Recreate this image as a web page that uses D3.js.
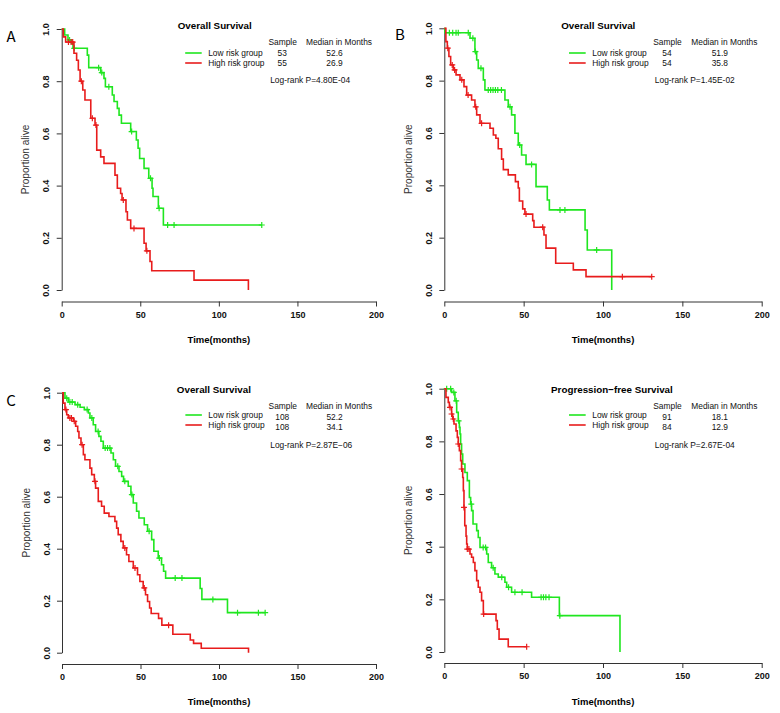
<!DOCTYPE html>
<html lang="en">
<head>
<meta charset="utf-8">
<title>Kaplan-Meier survival curves</title>
<script src="https://cdn.jsdelivr.net/npm/d3@7"></script>
<style>
  body { margin: 0; background: #fff; }
  svg { display: block; font-family: "Liberation Sans", Arial, sans-serif; }
  .axis path, .axis line { fill: none; stroke: #333; stroke-width: 1; }
  .axis text { font-size: 9px; font-weight: bold; fill: #111; }
  .curve { fill: none; stroke-width: 1.6; }
  .censor { fill: none; stroke-width: 1.2; }
</style>
</head>
<body>
<script>
// ---------- data ----------
const groupNames = ["Low risk group", "High risk group"];
const panelLetters = ["A", "B", "C", ""];
const panelTitles = ["Overall Survival", "Overall Survival", "Overall Survival", "Progression\u2212free Survival"];
const sampleSizes = [[53, 55], [54, 54], [108, 108], [91, 84]];
const medianMonths = [["52.6", "26.9"], ["51.9", "35.8"], ["52.2", "34.1"], ["18.1", "12.9"]];
const logRankP = ["4.80E-04", "1.45E-02", "2.87E\u221206", "2.67E-04"];
const xTicks = [0, 50, 100, 150, 200];
const yTicks = [0, 0.2, 0.4, 0.6, 0.8, 1.0];

// each step = [months, survival after the drop]
// A
const aLowSteps = [[0,1],[1.9,0.977],[4,0.958],[6.2,0.945],[7.2,0.926],[16.3,0.90],[17.2,0.852],[24.8,0.833],[26.9,0.811],[27.8,0.779],[32.2,0.747],[33.3,0.722],[35.4,0.696],[36.5,0.67],[38,0.639],[43.9,0.607],[47.5,0.575],[48.6,0.543],[49.6,0.504],[52.4,0.466],[55.4,0.428],[57.5,0.39],[58.1,0.358],[61.5,0.313],[64.7,0.249]];
const aLowEnd = 127.3;
const aLowCensor = [5, 8, 23.5, 25.5, 30, 44.5, 56.5, 62, 67.4, 71.5, 127.3];
const aHighSteps = [[0,1],[1,0.97],[2.5,0.95],[7.8,0.907],[9.5,0.88],[10.6,0.843],[11.7,0.80],[13.4,0.766],[14.8,0.728],[18.5,0.658],[21.2,0.632],[22.3,0.536],[24.8,0.51],[26.9,0.485],[33.9,0.44],[35.4,0.39],[37.5,0.37],[38.4,0.345],[40.9,0.30],[41.8,0.268],[43.9,0.236],[52.4,0.179],[53.7,0.15],[56.2,0.109],[57.3,0.074],[84.2,0.038],[118.8,0]];
const aHighEnd = 118.8;
const aHighCensor = [4.3, 6, 7, 12.5, 19.5, 21.8, 39.2, 46, 54.2];
// B
const bLowSteps = [[0,1],[0.4,0.983],[16.2,0.962],[19.3,0.911],[20.4,0.879],[21.4,0.847],[24.6,0.803],[25.6,0.764],[38.2,0.726],[40.3,0.70],[42.4,0.669],[44.5,0.599],[46.6,0.554],[48.7,0.516],[51.5,0.48],[57.8,0.395],[64.9,0.344],[66.2,0.306],[88.7,0.229],[90.1,0.153],[105.5,0]];
const bLowEnd = 105.5;
const bLowCensor = [3.2, 5.3, 7.4, 8.8, 15.1, 18, 19.6, 23.1, 27.7, 29.2, 30.7, 32.2, 33.7, 36, 41.4, 47.5, 55, 72.9, 76, 96];
const bHighSteps = [[0,1],[1,0.949],[1.9,0.924],[2.9,0.892],[4,0.86],[5.7,0.841],[7.4,0.822],[9.9,0.803],[12.4,0.777],[14.1,0.745],[17.2,0.726],[19.3,0.70],[20.4,0.669],[22.5,0.637],[28.8,0.618],[30.9,0.592],[32.5,0.58],[34,0.54],[36.1,0.50],[37.2,0.46],[40.3,0.44],[44.8,0.414],[46.6,0.39],[47.3,0.34],[49.4,0.31],[50.8,0.29],[55.7,0.265],[56.5,0.24],[62.8,0.21],[64.1,0.16],[70.2,0.102],[81.3,0.077],[89.3,0.051]];
const bHighEnd = 130.7;
const bHighCensor = [2.2, 5, 6.5, 11, 15, 19.8, 23.5, 51.5, 62, 112.2, 130.7];
// C
const cLowSteps = [[0,1],[1.9,0.979],[4,0.964],[8.3,0.954],[11.5,0.944],[14.2,0.935],[16.8,0.922],[17.8,0.903],[19.9,0.877],[21.4,0.851],[23.5,0.832],[24.8,0.813],[26.3,0.787],[31.2,0.768],[32.7,0.742],[34.1,0.717],[36.3,0.697],[38,0.678],[39.2,0.659],[42.2,0.64],[43.9,0.608],[45.4,0.576],[47.5,0.544],[49,0.518],[52.4,0.492],[54.5,0.467],[57.1,0.435],[58.5,0.39],[61.3,0.364],[63.4,0.338],[64.7,0.313],[66,0.287],[88,0.247],[89.1,0.205],[105.4,0.154]];
const cLowEnd = 129.4;
const cLowCensor = [3, 5, 6.5, 10, 16, 19, 23, 27.5, 29, 30.5, 35.5, 40, 44.5, 55.5, 62, 72.1, 76.4, 96.1, 111.8, 125.1, 129.4];
const cHighSteps = [[0,1],[0.8,0.96],[1.9,0.935],[3,0.915],[4,0.903],[7.2,0.89],[8.7,0.871],[10,0.851],[10.8,0.826],[12.1,0.80],[13.6,0.762],[14.6,0.742],[17.8,0.71],[18.9,0.685],[20.6,0.659],[21.4,0.633],[23.1,0.582],[25.2,0.563],[26.9,0.537],[29.9,0.524],[33.7,0.505],[34.8,0.479],[35.8,0.454],[37.5,0.428],[39,0.403],[41.1,0.377],[42.6,0.351],[45.4,0.326],[48.1,0.30],[49.6,0.274],[51.7,0.249],[53.2,0.223],[54.5,0.197],[55.8,0.172],[56.8,0.151],[61.5,0.132],[63.6,0.106],[70.6,0.071],[81.7,0.049],[83.8,0.036],[88.7,0.017],[118.8,0]];
const cHighEnd = 118.8;
const cHighCensor = [2.5, 5, 6, 7.8, 12.8, 21, 40, 46.5, 52.4, 67.9];
// D
const dLowSteps = [[0,1],[4.6,0.986],[6.7,0.954],[7.8,0.91],[8.8,0.878],[9.5,0.853],[9.9,0.828],[10.3,0.79],[10.9,0.752],[11.6,0.714],[13,0.682],[14.5,0.651],[15.8,0.587],[16.6,0.562],[17.2,0.537],[18.1,0.486],[20.4,0.461],[21.4,0.435],[22.5,0.397],[26.7,0.372],[27.7,0.34],[29.8,0.32],[31.9,0.296],[34,0.284],[38.2,0.265],[39.3,0.246],[42.4,0.227],[55,0.208],[72.5,0.138],[110.7,0]];
const dLowEnd = 110.7;
const dLowCensor = [1.5, 4, 6, 7.5, 9, 17, 24.5, 26, 30.8, 36.2, 40.5, 44.5, 49, 61, 62.5, 64, 66, 72.8];
const dHighSteps = [[0,1],[1.05,0.967],[2.5,0.948],[3.2,0.929],[4.6,0.904],[5.3,0.885],[6.1,0.866],[7.4,0.84],[8.2,0.815],[8.8,0.79],[9.5,0.765],[10.3,0.727],[10.9,0.695],[11.6,0.663],[12,0.613],[12.4,0.549],[12.9,0.48],[13.7,0.44],[14.1,0.41],[14.5,0.391],[16.2,0.372],[17.2,0.36],[18.3,0.34],[19.3,0.309],[20.4,0.271],[21.4,0.246],[22.5,0.227],[23.5,0.195],[24.6,0.144],[32.6,0.119],[33.4,0.087],[34.5,0.049],[40.3,0.02]];
const dHighEnd = 51.9;
const dHighCensor = [3.6, 4.6, 5.7, 8.8, 10.9, 12.4, 14.5, 15.5, 24.8, 51.9];

// ---------- layout ----------
const width = 780, height = 713;
const colors = ["#1fe61f", "#e81c1c"];
const frames = [
  { x0: 61.7, x1: 376, y1: 29, y0: 290, axisY: 301.5, xlabY: 342.5, letter: [11, 41.7],
    titleY: 29.3, headY: 44.5, rowY: [56, 66], numY: [56, 66], logY: 82.5 },
  { x0: 444.3, x1: 761.7, y1: 28.3, y0: 290, axisY: 301.5, xlabY: 342.5, letter: [400, 40],
    titleY: 29.3, headY: 44.5, rowY: [56, 66], numY: [56, 66], logY: 82.5 },
  { x0: 62, x1: 376, y1: 392.7, y0: 652.7, axisY: 664, xlabY: 705, letter: [11, 406],
    titleY: 393, headY: 409, rowY: [418, 428], numY: [420, 430], logY: 448 },
  { x0: 444.3, x1: 761.7, y1: 388.7, y0: 652, axisY: 663, xlabY: 705, letter: [400, 406],
    titleY: 393, headY: 409, rowY: [418, 428], numY: [420, 430], logY: 448 }
];
const titleCenter = [153, 152.5, 152, 166];

const curves = [
  [{ steps: aLowSteps, end: aLowEnd, censor: aLowCensor }, { steps: aHighSteps, end: aHighEnd, censor: aHighCensor }],
  [{ steps: bLowSteps, end: bLowEnd, censor: bLowCensor }, { steps: bHighSteps, end: bHighEnd, censor: bHighCensor }],
  [{ steps: cLowSteps, end: cLowEnd, censor: cLowCensor }, { steps: cHighSteps, end: cHighEnd, censor: cHighCensor }],
  [{ steps: dLowSteps, end: dLowEnd, censor: dLowCensor }, { steps: dHighSteps, end: dHighEnd, censor: dHighCensor }]
];

const svg = d3.select("body").append("svg")
    .attr("width", width)
    .attr("height", height);

// survival value of a step curve at time t
function survAt(steps, t) {
  let s = 1;
  for (const p of steps) { if (p[0] <= t) s = p[1]; }
  return s;
}

frames.forEach((f, i) => {
  const x = d3.scaleLinear().domain([0, 200]).range([f.x0, f.x1]);
  const y = d3.scaleLinear().domain([0, 1]).range([f.y0, f.y1]);
  const k = (f.x1 - f.x0) / 314.3;   // legend spacing follows panel width
  const g = svg.append("g");

  // axes
  g.append("g")
      .attr("class", "axis")
      .attr("transform", "translate(0," + f.axisY + ")")
      .call(d3.axisBottom(x).tickValues(xTicks).tickSize(5).tickSizeOuter(0).tickPadding(5));

  g.append("g")
      .attr("class", "axis")
      .attr("transform", "translate(" + f.x0 + ",0)")
      .call(d3.axisLeft(y).tickValues(yTicks).tickSize(5).tickSizeOuter(0).tickFormat(d3.format(".1f")))
      .selectAll("text")
      .attr("transform", "rotate(-90)")
      .attr("text-anchor", "middle")
      .attr("x", 0)
      .attr("y", -12.5)
      .attr("dy", 0);

  g.append("text")
      .attr("x", (f.x0 + f.x1) / 2)
      .attr("y", f.xlabY)
      .attr("text-anchor", "middle")
      .style("font-size", "9.5px")
      .style("font-weight", "bold")
      .text("Time(months)");

  g.append("text")
      .attr("transform", "translate(" + (f.x0 - 32.5) + "," + ((f.y0 + f.y1) / 2) + ") rotate(-90)")
      .attr("text-anchor", "middle")
      .style("font-size", "10px")
      .style("fill", "#333")
      .text("Proportion alive");

  if (panelLetters[i]) {
    g.append("text")
        .attr("x", f.letter[0])
        .attr("y", f.letter[1])
        .attr("text-anchor", "middle")
        .style("font-family", "'Noto Sans CJK SC', 'DejaVu Sans', sans-serif")
        .style("font-size", "15px")
        .text(panelLetters[i]);
  }

  // curves, high risk drawn last like the original
  const line = d3.line()
      .x(d => x(d[0]))
      .y(d => y(d[1]))
      .curve(d3.curveStepAfter);

  curves[i].forEach((c, j) => {
    const last = c.steps[c.steps.length - 1];
    const pts = last[0] < c.end ? c.steps.concat([[c.end, last[1]]]) : c.steps;
    g.append("path")
        .attr("class", "curve")
        .attr("stroke", colors[j])
        .attr("d", line(pts));

    g.selectAll(null)
      .data(c.censor)
      .enter()
      .append("path")
      .attr("class", "censor")
      .attr("stroke", colors[j])
      .attr("transform", t => "translate(" + x(t) + "," + y(survAt(c.steps, t)) + ")")
      .attr("d", "M-3,0H3M0,-3V3");
  });

  // legend block
  const lx = d => f.x0 + d * k;
  g.append("text")
      .attr("x", lx(titleCenter[i]))
      .attr("y", f.titleY)
      .attr("text-anchor", "middle")
      .style("font-size", "9.8px")
      .style("font-weight", "bold")
      .text(panelTitles[i]);

  const small = sel => sel.style("font-size", "8.4px").style("fill", "#111");

  g.append("text").attr("x", lx(221)).attr("y", f.headY)
      .attr("text-anchor", "middle").call(small).text("Sample");
  g.append("text").attr("x", lx(277.3)).attr("y", f.headY)
      .attr("text-anchor", "middle").call(small).text("Median in Months");

  groupNames.forEach((name, j) => {
    g.append("line")
        .attr("x1", lx(123.5)).attr("x2", lx(140))
        .attr("y1", f.rowY[j] - 3).attr("y2", f.rowY[j] - 3)
        .attr("stroke", colors[j])
        .attr("stroke-width", 1.6);
    g.append("text").attr("x", lx(146.5)).attr("y", f.rowY[j])
        .call(small).text(name);
    g.append("text").attr("x", lx(220.5)).attr("y", f.numY[j])
        .attr("text-anchor", "middle").call(small).text(sampleSizes[i][j]);
    g.append("text").attr("x", lx(272.8)).attr("y", f.numY[j])
        .attr("text-anchor", "middle").call(small).text(medianMonths[i][j]);
  });

  g.append("text").attr("x", lx(208.5)).attr("y", f.logY)
      .call(small).text("Log-rank P=" + logRankP[i]);
});
</script>
</body>
</html>
